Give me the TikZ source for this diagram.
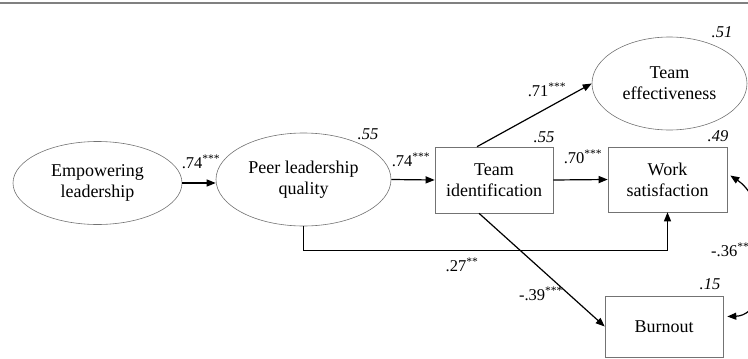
\documentclass[tikz,border=0pt]{standalone}
\usepackage{fontspec}
\setmainfont{Liberation Serif}
\usetikzlibrary{arrows.meta,shapes.geometric,calc}
\begin{document}
\begin{tikzpicture}[x=1pt,y=-1pt,
  lat/.style={ellipse,draw=black!55,line width=0.6pt,inner sep=0pt,align=center,font=\fontsize{18}{21}\selectfont},
  obs/.style={rectangle,draw=black!55,line width=0.6pt,inner sep=0pt,align=center,font=\fontsize{18}{21}\selectfont},
  arr/.style={draw=black,line width=1.2pt,-{Triangle[length=9pt,width=7pt]}},
  dbl/.style={draw=black,line width=1.2pt,{Triangle[length=9pt,width=7pt]}-{Triangle[length=9pt,width=7pt]}},
  coef/.style={font=\fontsize{16.5}{19}\selectfont,inner sep=0pt},
  rsq/.style={font=\fontsize{16.5}{19}\selectfont\itshape,inner sep=0pt}]
\useasboundingbox (0,0) rectangle (748,359);
\clip (0,0) rectangle (748,359);
\draw[black!50,line width=1.5pt] (0,3) -- (748,3);
\node[lat,minimum width=169pt,minimum height=83pt] (emp) at (97.5,183) {Empowering\\leadership};
\node[lat,minimum width=175pt,minimum height=93pt] (peer) at (303.5,179.5) {Peer leadership\\quality};
\node[lat,minimum width=155pt,minimum height=93pt] (te) at (669.5,83.5) {Team\\effectiveness};
\node[obs,minimum width=118pt,minimum height=66pt] (tid) at (494,180) {Team\\identification};
\node[obs,minimum width=119pt,minimum height=65pt] (ws) at (667.5,179.5) {Work\\satisfaction};
\node[obs,minimum width=118pt,minimum height=61pt] (bo) at (664,326.5) {Burnout};
\draw[arr] (emp.east) -- (emp.east -| peer.west);
\draw[arr] (peer.east) -- (tid.west);
\draw[arr] (tid.east) -- (ws.west);
\coordinate (tidA) at ([xshift=-17pt]tid.north);
\coordinate (tidB) at ([xshift=-15pt]tid.south);
\draw[arr] (tidA) -- (te.west);
\draw[arr] (tidB) -- (bo.west);
\draw[arr] (peer.south) -- ++(0,24) -| (ws.south);
\coordinate (wsR) at ([xshift=3pt,yshift=4pt]ws.east);
\coordinate (boR) at ([xshift=4pt,yshift=10pt]bo.east);
\draw[dbl] (wsR) .. controls (775,205) and (775,315) .. (boR);
\node[coef] (l1) at (201,162) {.74\textsuperscript{***}};
\node[coef] (l2) at (411,160) {.74\textsuperscript{***}};
\node[coef] (l3) at (583,157) {.70\textsuperscript{***}};
\node[coef] (l4) at (547,90) {.71\textsuperscript{***}};
\node[coef] (l5) at (462,265) {.27\textsuperscript{**}};
\node[coef] (l6) at (541,294) {-.39\textsuperscript{***}};
\node[coef,anchor=west] (l7) at (711,250) {-.36\textsuperscript{**}};
\node[rsq] (r1) at (368,134) {.55};
\node[rsq] (r2) at (544,137) {.55};
\node[rsq] (r3) at (718,136) {.49};
\node[rsq] (r4) at (722,32) {.51};
\node[rsq] (r5) at (710,284) {.15};
\end{tikzpicture}
\end{document}
